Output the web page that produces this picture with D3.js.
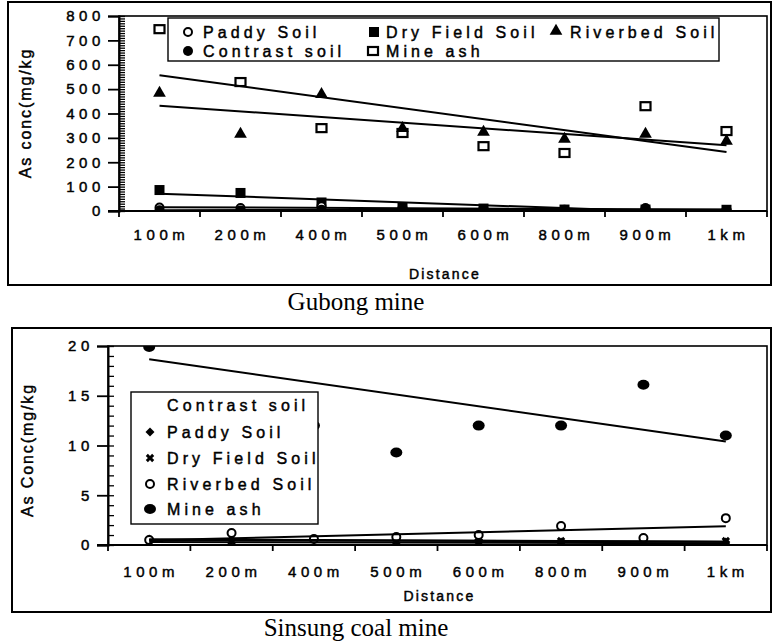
<!DOCTYPE html>
<html>
<head>
<meta charset="utf-8">
<script src="https://cdn.jsdelivr.net/npm/d3@7"></script>
<style>
  body { margin: 0; background: #fff; }
  svg { display: block; }
  .sans { font-family: "Liberation Sans", Arial, sans-serif; stroke: #000; stroke-width: 0.45px; }
</style>
</head>
<body>
<svg id="chart" width="773" height="643"></svg>
<script>
// distances along the x axis (both panels)
const categories = ["100m", "200m", "400m", "500m", "600m", "800m", "900m", "1km"];

// Gubong mine, As conc (mg/kg)
const gubongPaddy     = [14, 12, 20, 12, 8, 5, 12, 4];
const gubongDryField  = [86, 74, 35, 15, 10, 6, 6, 5];
const gubongRiverbed  = [480, 311, 475, 335, 320, 291, 311, 283];
const gubongContrast  = [3, 2, 5, 6, 5, 4, 6, 4];
const gubongMineAsh   = [746, 529, 340, 320, 266, 238, 430, 328];
const gubongYTicks    = [0, 100, 200, 300, 400, 500, 600, 700, 800];

// Sinsung coal mine, As conc (mg/kg)  (200m mine ash is off the top of the axis)
const sinsungContrast = [0.3, 0.3, 0.2, 0.3, 0.2, 0.2, 0.2, 0.2];
const sinsungPaddy    = [0.6, 0.5, 0.5, 0.5, 0.5, 0.3, 0.4, 0.3];
const sinsungDryField = [0.5, 0.4, 0.6, 0.4, 0.3, 0.4, 0.3, 0.4];
const sinsungRiverbed = [0.5, 1.2, 0.6, 0.8, 1.0, 1.9, 0.7, 2.7];
const sinsungMineAsh  = [19.9, 24, 12, 9.3, 12, 12, 16.1, 11];
const sinsungYTicks   = [0, 5, 10, 15, 20];

const SERIF = "'Liberation Serif', 'Times New Roman', serif";

const svg = d3.select("#chart");
svg.append("rect").attr("width", 773).attr("height", 643).attr("fill", "#fff");

// marker painters
const markers = {
  openCircle: (g, x, y) => g.append("circle").attr("cx", x).attr("cy", y).attr("r", 4)
      .attr("fill", "#fff").attr("stroke", "#000").attr("stroke-width", 2),
  dot: (g, x, y) => g.append("circle").attr("cx", x).attr("cy", y).attr("r", 5).attr("fill", "#000"),
  bigDot: (g, x, y) => g.append("ellipse").attr("cx", x).attr("cy", y).attr("rx", 6).attr("ry", 5).attr("fill", "#000"),
  square: (g, x, y) => g.append("rect").attr("x", x - 5).attr("y", y - 5).attr("width", 10).attr("height", 10).attr("fill", "#000"),
  openSquare: (g, x, y) => g.append("rect").attr("x", x - 5).attr("y", y - 4).attr("width", 10).attr("height", 8)
      .attr("fill", "#fff").attr("stroke", "#000").attr("stroke-width", 2.2),
  triangle: (g, x, y) => g.append("path").attr("d", d3.symbol(d3.symbolTriangle, 70)())
      .attr("transform", `translate(${x},${y - 1})`).attr("fill", "#000"),
  diamond: (g, x, y) => g.append("path").attr("d", d3.symbol(d3.symbolSquare, 40)())
      .attr("transform", `translate(${x},${y}) rotate(45)`).attr("fill", "#000"),
  cross: (g, x, y) => g.append("path").attr("d", d3.symbol(d3.symbolCross, 45)())
      .attr("transform", `translate(${x},${y}) rotate(45)`).attr("fill", "#000"),
  none: () => {}
};

// least squares line over the category index, like the spreadsheet trendline
function trend(values) {
  const n = values.length;
  const xm = d3.mean(values, (d, i) => i);
  const ym = d3.mean(values);
  let sxy = 0, sxx = 0;
  values.forEach((v, i) => { sxy += (i - xm) * (v - ym); sxx += (i - xm) * (i - xm); });
  const b = sxy / sxx, a = ym - b * xm;
  return [[0, a], [n - 1, a + b * (n - 1)]];
}

function drawPanel(p) {
  const g = svg.append("g");
  const x = d3.scaleBand().domain(categories).range([p.left, p.right]);
  const y = d3.scaleLinear().domain(p.yDomain).range([p.bottom, p.top]);
  const cx = c => x(c) + x.bandwidth() / 2;

  // outer frame and caption
  g.append("rect").attr("x", p.box[0]).attr("y", p.box[1])
    .attr("width", p.box[2] - p.box[0]).attr("height", p.box[3] - p.box[1])
    .attr("fill", "none").attr("stroke", "#000").attr("stroke-width", 2);
  g.append("text").attr("x", 356).attr("y", p.captionY).attr("text-anchor", "middle")
    .attr("font-family", SERIF).attr("font-size", 25).text(p.caption);

  // plot frame
  g.append("rect").attr("x", p.left).attr("y", p.top)
    .attr("width", p.right - p.left).attr("height", p.bottom - p.top)
    .attr("fill", "none").attr("stroke", "#000").attr("stroke-width", 1.6);

  // y axis: major ticks both sides, minor on the inside
  g.append("g").attr("transform", `translate(${p.left},0)`)
    .call(d3.axisRight(y).tickValues(d3.range(p.yDomain[0], p.yDomain[1] + 1e-9, p.minorStep))
      .tickSize(6).tickFormat(""))
    .call(a => a.select(".domain").remove())
    .selectAll("line").attr("stroke-width", 1.3);
  const ya = g.append("g").attr("transform", `translate(${p.left},0)`)
    .call(d3.axisLeft(y).tickValues(p.yTicks).tickSize(11).tickPadding(7));
  ya.select(".domain").attr("stroke-width", 2);
  ya.selectAll("line").attr("stroke-width", 1.8);
  ya.selectAll("text").attr("class", "sans").attr("font-size", 15).attr("letter-spacing", 4.6)
    .attr("dx", 4).attr("fill", "#000");

  // x axis: ticks on the band edges, labels under the band centres
  g.append("line").attr("x1", p.left - 11).attr("x2", p.right)
    .attr("y1", p.bottom).attr("y2", p.bottom).attr("stroke", "#000").attr("stroke-width", 2);
  const edges = categories.map(c => x(c)).concat([p.right]);
  g.selectAll(".xtick").data(edges).join("line")
    .attr("x1", d => d).attr("x2", d => d).attr("y1", p.bottom).attr("y2", p.bottom + 6)
    .attr("stroke", "#000").attr("stroke-width", 1.8);
  g.selectAll(".xlab").data(categories).join("text").attr("class", "sans")
    .attr("x", d => cx(d) + 2).attr("y", p.bottom + p.xLabelDy)
    .attr("text-anchor", "middle").attr("font-size", 15)
    .attr("letter-spacing", 4.6).text(d => d);
  g.append("text").attr("class", "sans").attr("x", (p.left + p.right) / 2 + 2).attr("y", p.distanceY)
    .attr("text-anchor", "middle").attr("font-size", 14)
    .attr("letter-spacing", 2.2).text("Distance");
  g.append("text").attr("class", "sans").attr("transform", `translate(${p.yLabelX},${p.yLabelY}) rotate(-90)`)
    .attr("text-anchor", "middle").attr("font-size", 16)
    .attr("letter-spacing", 1.9).text(p.yLabel);

  // data, clipped to the plot area
  const clipId = "clip-" + p.id;
  svg.append("clipPath").attr("id", clipId).append("rect")
    .attr("x", p.left).attr("y", p.top).attr("width", p.right - p.left).attr("height", p.bottom - p.top + 1);
  const plot = g.append("g").attr("clip-path", `url(#${clipId})`);
  p.series.forEach(s => {
    s.values.forEach((v, i) => markers[s.marker](plot, cx(categories[i]), y(v)));
  });
  const line = d3.line().x(d => cx(categories[d[0]])).y(d => y(d[1]));
  p.series.forEach(s => {
    plot.append("path").attr("d", line(trend(s.values)))
      .attr("fill", "none").attr("stroke", "#000").attr("stroke-width", 2);
  });

  // legend
  const L = p.legend;
  g.append("rect").attr("x", L.box[0]).attr("y", L.box[1])
    .attr("width", L.box[2] - L.box[0]).attr("height", L.box[3] - L.box[1])
    .attr("fill", "#fff").attr("stroke", "#000").attr("stroke-width", 1.4);
  L.items.forEach(it => {
    const s = p.series.find(d => d.name === it.name);
    markers[s.marker](g, it.mx, it.y);
    g.append("text").attr("class", "sans").attr("x", it.tx).attr("y", it.y + 6)
      .attr("font-size", 16).attr("letter-spacing", 4.1)
      .text(s.name);
  });
}

drawPanel({
  id: "gubong",
  box: [8, 2, 771, 285], caption: "Gubong mine", captionY: 310,
  left: 119, right: 767, top: 16, bottom: 211,
  yDomain: [0, 800], yTicks: gubongYTicks, minorStep: 10,
  xLabelDy: 29, distanceY: 279, yLabel: "As conc(mg/kg", yLabelX: 31, yLabelY: 113,
  series: [
    { name: "Mine ash", values: gubongMineAsh, marker: "openSquare" },
    { name: "Riverbed Soil", values: gubongRiverbed, marker: "triangle" },
    { name: "Dry Field Soil", values: gubongDryField, marker: "square" },
    { name: "Paddy Soil", values: gubongPaddy, marker: "openCircle" },
    { name: "Contrast soil", values: gubongContrast, marker: "dot" }
  ],
  legend: {
    box: [168, 18, 719, 61],
    items: [
      { name: "Paddy Soil", mx: 188, tx: 203, y: 32 },
      { name: "Dry Field Soil", mx: 374, tx: 386, y: 32 },
      { name: "Riverbed Soil", mx: 556, tx: 570, y: 32 },
      { name: "Contrast soil", mx: 188, tx: 203, y: 51 },
      { name: "Mine ash", mx: 373, tx: 386, y: 51 }
    ]
  }
});

drawPanel({
  id: "sinsung",
  box: [12, 328, 771, 612], caption: "Sinsung coal mine", captionY: 636,
  left: 108, right: 767, top: 346, bottom: 545,
  yDomain: [0, 20], yTicks: sinsungYTicks, minorStep: 1,
  xLabelDy: 32, distanceY: 601, yLabel: "As Conc(mg/kg", yLabelX: 33, yLabelY: 450,
  series: [
    { name: "Contrast soil", values: sinsungContrast, marker: "none" },
    { name: "Paddy Soil", values: sinsungPaddy, marker: "diamond" },
    { name: "Dry Field Soil", values: sinsungDryField, marker: "cross" },
    { name: "Riverbed Soil", values: sinsungRiverbed, marker: "openCircle" },
    { name: "Mine ash", values: sinsungMineAsh, marker: "bigDot" }
  ],
  legend: {
    box: [131, 392, 318, 524],
    items: [
      { name: "Contrast soil", mx: 150, tx: 167, y: 405 },
      { name: "Paddy Soil", mx: 150, tx: 167, y: 432 },
      { name: "Dry Field Soil", mx: 150, tx: 167, y: 458 },
      { name: "Riverbed Soil", mx: 150, tx: 167, y: 484 },
      { name: "Mine ash", mx: 150, tx: 167, y: 509 }
    ]
  }
});
</script>
</body>
</html>
